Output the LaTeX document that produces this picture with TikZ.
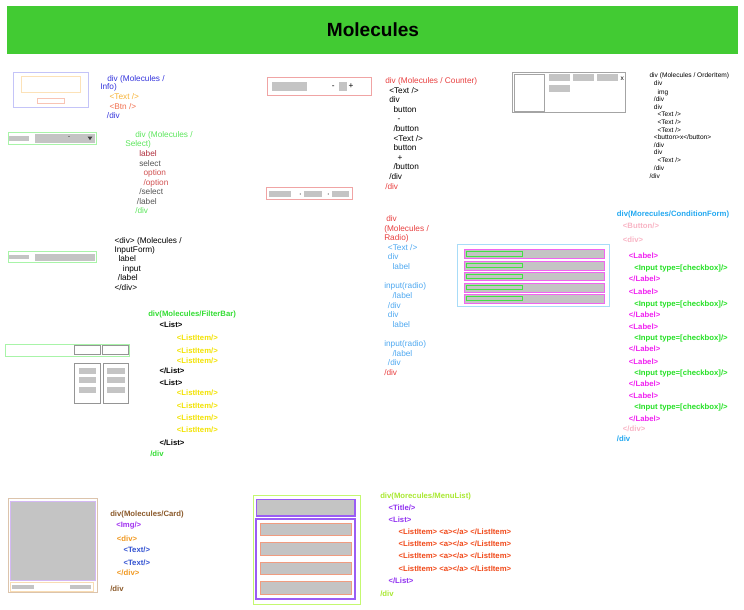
\documentclass[tikz,border=0pt]{standalone}
\usepackage{fontspec}
\setmainfont{Liberation Sans}
\definecolor{titlegreen}{HTML}{42CB33}
\definecolor{grayfill}{HTML}{C4C4C4}
\definecolor{infoline}{HTML}{C4C4F8}
\definecolor{infoinner}{HTML}{FCE2B8}
\definecolor{infosmall}{HTML}{F8C4B4}
\definecolor{infoblue}{HTML}{3434DC}
\definecolor{infoyellow}{HTML}{F6B236}
\definecolor{infored}{HTML}{F07050}
\definecolor{lightgreen}{HTML}{A8F4A8}
\definecolor{selgreen}{HTML}{5CE65C}
\definecolor{seldred}{HTML}{B0303E}
\definecolor{selgray}{HTML}{555555}
\definecolor{optred}{HTML}{D05050}
\definecolor{fbgreen}{HTML}{33DD33}
\definecolor{fbyellow}{HTML}{F2E200}
\definecolor{boxgray}{HTML}{959595}
\definecolor{cntred}{HTML}{E84040}
\definecolor{cntline}{HTML}{F0A4A4}
\definecolor{oigray}{HTML}{A4A4A4}
\definecolor{rdblue}{HTML}{4EA8F0}
\definecolor{rdline}{HTML}{A8DCF8}
\definecolor{rdmag}{HTML}{F064F0}
\definecolor{rdgreen}{HTML}{44E044}
\definecolor{cfblue}{HTML}{22A8F0}
\definecolor{cfpink}{HTML}{F8B4C4}
\definecolor{cfmag}{HTML}{F020F0}
\definecolor{cfgreen}{HTML}{22E022}
\definecolor{cdbrown}{HTML}{8B5A2B}
\definecolor{cdpurple}{HTML}{A030F0}
\definecolor{cdorange}{HTML}{F09820}
\definecolor{cdblue}{HTML}{3050D0}
\definecolor{cdline}{HTML}{DCC4AC}
\definecolor{cdlav}{HTML}{D4B8F4}
\definecolor{cdlo}{HTML}{F8DCB4}
\definecolor{mlyg}{HTML}{A8E830}
\definecolor{mlygline}{HTML}{C4F870}
\definecolor{mlpurple}{HTML}{9030F0}
\definecolor{mlpline}{HTML}{9A5CF4}
\definecolor{mlred}{HTML}{F04818}
\definecolor{mlsal}{HTML}{F09C80}
\tikzset{
  tx/.style={anchor=west, inner sep=0pt, text height=4.45pt, text depth=0pt, font=\fontsize{6.2}{7}\selectfont},
  tb/.style={anchor=west, inner sep=0pt, text height=4.2pt, text depth=0pt, font=\fontsize{5.8}{7}\selectfont\bfseries},
  ts/.style={anchor=west, inner sep=0pt, text height=3.55pt, text depth=0pt, font=\fontsize{4.95}{6}\selectfont},
  gbar/.style={fill=grayfill},
  thinbox/.style={line width=0.6pt},
}
\begin{document}
\begin{tikzpicture}[x=0.75pt,y=-0.75pt]
\useasboundingbox (0,0) rectangle (744,610);
% title
\fill[titlegreen] (7,6) rectangle (738,54);
\node[inner sep=0pt, text height=10.2pt, text depth=0pt, font=\fontsize{14.3}{16}\selectfont\bfseries] (title) at (373,30) {Molecules};

% ---------- Info
\draw[thinbox, infoline] (13.3,72.3) rectangle (88.3,107.3);
\draw[thinbox, infoinner] (21.3,76) rectangle (80.3,92.7);
\draw[thinbox, infosmall] (37.3,98.3) rectangle (64.3,103.3);
\node[tx, infoblue] (info1) at (107,78.3) {div (Molecules /};
\node[tx, infoblue] (info2) at (100,86.7) {Info)};
\node[tx, infoyellow] (info3) at (109.3,97) {<Text />};
\node[tx, infored] (info4) at (109.3,106.7) {<Btn />};
\node[tx, infoblue] (info5) at (106.7,115.3) {/div};

% ---------- Select
\draw[thinbox, lightgreen] (8.3,132.7) rectangle (96.7,144);
\fill[grayfill] (9,135.7) rectangle (28.7,141.3);
\fill[grayfill] (35,134.3) rectangle (95,142.7);
\draw[line width=0.4pt, gray] (68.3,136.7) -- (69.7,136.7);
\fill[black!75] (87.6,136.6) -- (92.4,136.6) -- (90,140.2) -- cycle;
\node[tx, selgreen] (sel1) at (135,135) {div (Molecules /};
\node[tx, selgreen] (sel2) at (125,144) {Select)};
\node[tx, seldred] (sel3) at (139,153.7) {label};
\node[tx, selgray] (sel4) at (139,163.3) {select};
\node[tx, optred] (sel5) at (143.3,173) {option};
\node[tx, optred] (sel6) at (143.3,182.7) {/option};
\node[tx, selgray] (sel7) at (139,192) {/select};
\node[tx, selgray] (sel8) at (136.7,201.3) {/label};
\node[tx, selgreen] (sel9) at (135,211) {/div};

% ---------- InputForm
\draw[thinbox, lightgreen] (8.3,251.7) rectangle (96.7,262.7);
\fill[grayfill] (9,255) rectangle (28.7,259.3);
\fill[grayfill] (35,253.7) rectangle (95,260.7);
\node[tx] (inp1) at (114.3,240.3) {<div> (Molecules /};
\node[tx] (inp2) at (114.3,249.3) {InputForm)};
\node[tx] (inp3) at (118.3,259) {label};
\node[tx] (inp4) at (122.7,268.7) {input};
\node[tx] (inp5) at (117.7,278) {/label};
\node[tx] (inp6) at (114.3,287.3) {</div>};

% ---------- FilterBar
\draw[thinbox, lightgreen] (5,344) rectangle (129.7,356.7);
\draw[thinbox, boxgray] (74,345.7) rectangle (100.7,354.3);
\draw[thinbox, boxgray] (102.7,345.7) rectangle (128.7,354.3);
\draw[thinbox, boxgray] (74,363.3) rectangle (100.7,403.7);
\draw[thinbox, boxgray] (103,363.3) rectangle (128.7,403.7);
\fill[grayfill] (79,368) rectangle (96.3,373.7);
\fill[grayfill] (79,377.3) rectangle (96.3,383.3);
\fill[grayfill] (79,387) rectangle (96.3,393);
\fill[grayfill] (107.3,368) rectangle (124.7,373.7);
\fill[grayfill] (107.3,377.3) rectangle (124.7,383.3);
\fill[grayfill] (107.3,387) rectangle (124.7,393);
\node[tb, fbgreen] (fb1) at (148,313.3) {div(Molecules/FilterBar)};
\node[tb] (fb2) at (159.3,325) {<List>};
\node[tb, fbyellow] (fb3) at (176.7,337.3) {<ListItem/>};
\node[tb, fbyellow] (fb4) at (176.7,350.3) {<ListItem/>};
\node[tb, fbyellow] (fb5) at (176.7,360.3) {<ListItem/>};
\node[tb] (fb6) at (159.3,371) {</List>};
\node[tb] (fb7) at (159.3,382.3) {<List>};
\node[tb, fbyellow] (fb8) at (176.7,393) {<ListItem/>};
\node[tb, fbyellow] (fb9) at (176.7,405.3) {<ListItem/>};
\node[tb, fbyellow] (fb10) at (176.7,417.3) {<ListItem/>};
\node[tb, fbyellow] (fb11) at (176.7,429.7) {<ListItem/>};
\node[tb] (fb12) at (159.3,443) {</List>};
\node[tb, fbgreen] (fb13) at (150,454) {/div};

% ---------- Counter
\draw[thinbox, cntline] (267.3,77.7) rectangle (371,95);
\fill[grayfill] (271.7,82) rectangle (307,90.7);
\node[tx, anchor=center] (cminus) at (333.3,86) {-};
\fill[grayfill] (338.7,82) rectangle (346.7,90.7);
\node[tx, anchor=center] (cplus) at (351,86) {+};
\draw[thinbox, cntline] (266,187.7) rectangle (352.3,199.7);
\fill[grayfill] (269.3,190.7) rectangle (291,197.3);
\fill[black!70] (300.3,194) circle (0.6);
\fill[grayfill] (304.3,190.7) rectangle (322.3,197.3);
\fill[black!70] (328.3,194) circle (0.6);
\fill[grayfill] (331.7,190.7) rectangle (348.7,197.3);
\node[tx, cntred] (cnt1) at (385,81) {div (Molecules / Counter)};
\node[tx] (cnt2) at (389,90.3) {<Text />};
\node[tx] (cnt3) at (389,100) {div};
\node[tx] (cnt4) at (393.3,110) {button};
\node[tx] (cnt5) at (397.3,119) {-};
\node[tx] (cnt6) at (393.3,128.7) {/button};
\node[tx] (cnt7) at (393.3,138.3) {<Text />};
\node[tx] (cnt8) at (393.3,148) {button};
\node[tx] (cnt9) at (397.3,157.7) {+};
\node[tx] (cnt10) at (393.3,167) {/button};
\node[tx] (cnt11) at (389,176.7) {/div};
\node[tx, cntred] (cnt12) at (385,186.3) {/div};

% ---------- OrderItem
\draw[line width=1.1pt, oigray] (512.3,72.3) rectangle (625.7,112.7);
\draw[thinbox, oigray] (514,74) rectangle (544.7,111);
\fill[grayfill] (549,74.3) rectangle (570.3,81.3);
\fill[grayfill] (573,74.3) rectangle (594,81.3);
\fill[grayfill] (597,74.3) rectangle (618,81.3);
\fill[grayfill] (549,85.3) rectangle (570.3,92.3);
\node[ts, anchor=center] (oix) at (622.3,78) {x};
\node[ts] (oi1) at (649.3,75) {div (Molecules / OrderItem)};
\node[ts] (oi2) at (653.7,83.3) {div};
\node[ts] (oi3) at (657.3,92) {img};
\node[ts] (oi4) at (653.7,99) {/div};
\node[ts] (oi5) at (653.7,106.7) {div};
\node[ts] (oi6) at (657.3,114) {<Text />};
\node[ts] (oi7) at (657.3,122) {<Text />};
\node[ts] (oi8) at (657.3,129.7) {<Text />};
\node[ts] (oi9) at (653.7,137.3) {<button>x</button>};
\node[ts] (oi10) at (653.7,144.7) {/div};
\node[ts] (oi11) at (653.7,152.3) {div};
\node[ts] (oi12) at (657.3,160) {<Text />};
\node[ts] (oi13) at (653.7,167.7) {/div};
\node[ts] (oi14) at (649.3,175.7) {/div};

% ---------- Radio
\draw[thinbox, rdline] (457.7,244.3) rectangle (609.7,306.3);
\foreach \a/\b in {249.7/258.7, 261/270, 272/280.7, 283/292, 294.3/303}{
  \draw[thinbox, rdmag, fill=grayfill] (464,\a) rectangle (604.7,\b);
  \draw[thinbox, rdgreen] (466.7,\a+2) rectangle (522.7,\b-2.4);
}
\node[tx, cntred] (rd1) at (386,218.3) {div};
\node[tx, cntred] (rd2) at (384,228.3) {(Molecules /};
\node[tx, cntred] (rd3) at (384,237.7) {Radio)};
\node[tx, rdblue] (rd4) at (387.7,247.3) {<Text />};
\node[tx, rdblue] (rd5) at (387.7,257) {div};
\node[tx, rdblue] (rd6) at (392.3,266.7) {label};
\node[tx, rdblue] (rd7) at (384,286) {input(radio)};
\node[tx, rdblue] (rd8) at (392.3,295.7) {/label};
\node[tx, rdblue] (rd9) at (387.7,305.3) {/div};
\node[tx, rdblue] (rd10) at (387.7,314.7) {div};
\node[tx, rdblue] (rd11) at (392.3,324.3) {label};
\node[tx, rdblue] (rd12) at (384,343.7) {input(radio)};
\node[tx, rdblue] (rd13) at (392.3,353.3) {/label};
\node[tx, rdblue] (rd14) at (387.7,363) {/div};
\node[tx, cntred] (rd15) at (384,372.7) {/div};

% ---------- ConditionForm
\node[tb, cfblue] (cf1) at (616.7,213.3) {div(Morecules/ConditionForm)};
\node[tb, cfpink] (cf2) at (622.7,226) {<Button/>};
\node[tb, cfpink] (cf3) at (622.7,239.3) {<div>};
\node[tb, cfmag] (cfl1) at (628.7,256) {<Label>};
\node[tb, cfgreen] (cfi1) at (634,267.3) {<Input type=[checkbox]/>};
\node[tb, cfmag] (cfe1) at (628.7,278.7) {</Label>};
\node[tb, cfmag] (cfl2) at (628.7,291.7) {<Label>};
\node[tb, cfgreen] (cfi2) at (634,303.3) {<Input type=[checkbox]/>};
\node[tb, cfmag] (cfe2) at (628.7,314.3) {</Label>};
\node[tb, cfmag] (cfl3) at (628.7,326.7) {<Label>};
\node[tb, cfgreen] (cfi3) at (634,337.7) {<Input type=[checkbox]/>};
\node[tb, cfmag] (cfe3) at (628.7,348.7) {</Label>};
\node[tb, cfmag] (cfl4) at (628.7,361.3) {<Label>};
\node[tb, cfgreen] (cfi4) at (634,372.7) {<Input type=[checkbox]/>};
\node[tb, cfmag] (cfe4) at (628.7,383.3) {</Label>};
\node[tb, cfmag] (cfl5) at (628.7,395.7) {<Label>};
\node[tb, cfgreen] (cfi5) at (634,407) {<Input type=[checkbox]/>};
\node[tb, cfmag] (cfe5) at (628.7,418.3) {</Label>};
\node[tb, cfpink] (cf4) at (622.7,428.7) {</div>};
\node[tb, cfblue] (cf5) at (616.7,439) {/div};

% ---------- Card
\draw[thinbox, cdline] (8.3,498.3) rectangle (97.3,592.7);
\draw[thinbox, cdlav, fill=grayfill] (10.3,501.7) rectangle (95.7,580.7);
\draw[thinbox, cdlo] (10.3,582.7) rectangle (93,591);
\fill[grayfill] (12.3,585) rectangle (34,589.3);
\fill[grayfill] (69.7,585) rectangle (91,589.3);
\node[tb, cdbrown] (cd1) at (110,513.3) {div(Molecules/Card)};
\node[tb, cdpurple] (cd2) at (116,525) {<Img/>};
\node[tb, cdorange] (cd3) at (116.7,538.7) {<div>};
\node[tb, cdblue] (cd4) at (123.3,550) {<Text/>};
\node[tb, cdblue] (cd5) at (123.3,562.7) {<Text/>};
\node[tb, cdorange] (cd6) at (116.7,573) {</div>};
\node[tb, cdbrown] (cd7) at (110,589) {/div};

% ---------- MenuList
\draw[thinbox, mlygline] (253.3,495.3) rectangle (360.3,604);
\draw[line width=0.8pt, mlpline, fill=grayfill] (256.3,499.3) rectangle (355,516);
\draw[line width=0.8pt, mlpline] (256,519) rectangle (355,599);
\foreach \a/\b in {523.3/535.3, 542.3/555.3, 562/574.7, 581.7/594.7}{
  \draw[thinbox, mlsal, fill=grayfill] (260,\a) rectangle (351,\b);
}
\node[tb, mlyg] (ml1) at (380,495.7) {div(Morecules/MenuList)};
\node[tb, mlpurple] (ml2) at (388.3,508) {<Title/>};
\node[tb, mlpurple] (ml3) at (388.3,519.3) {<List>};
\node[tb, mlred] (ml4) at (398.3,531.7) {<ListItem> <a></a> </ListItem>};
\node[tb, mlred] (ml5) at (398.3,543.7) {<ListItem> <a></a> </ListItem>};
\node[tb, mlred] (ml6) at (398.3,556) {<ListItem> <a></a> </ListItem>};
\node[tb, mlred] (ml7) at (398.3,568.3) {<ListItem> <a></a> </ListItem>};
\node[tb, mlpurple] (ml8) at (388.3,581) {</List>};
\node[tb, mlyg] (ml9) at (380,593.7) {/div};
\end{tikzpicture}
\end{document}
